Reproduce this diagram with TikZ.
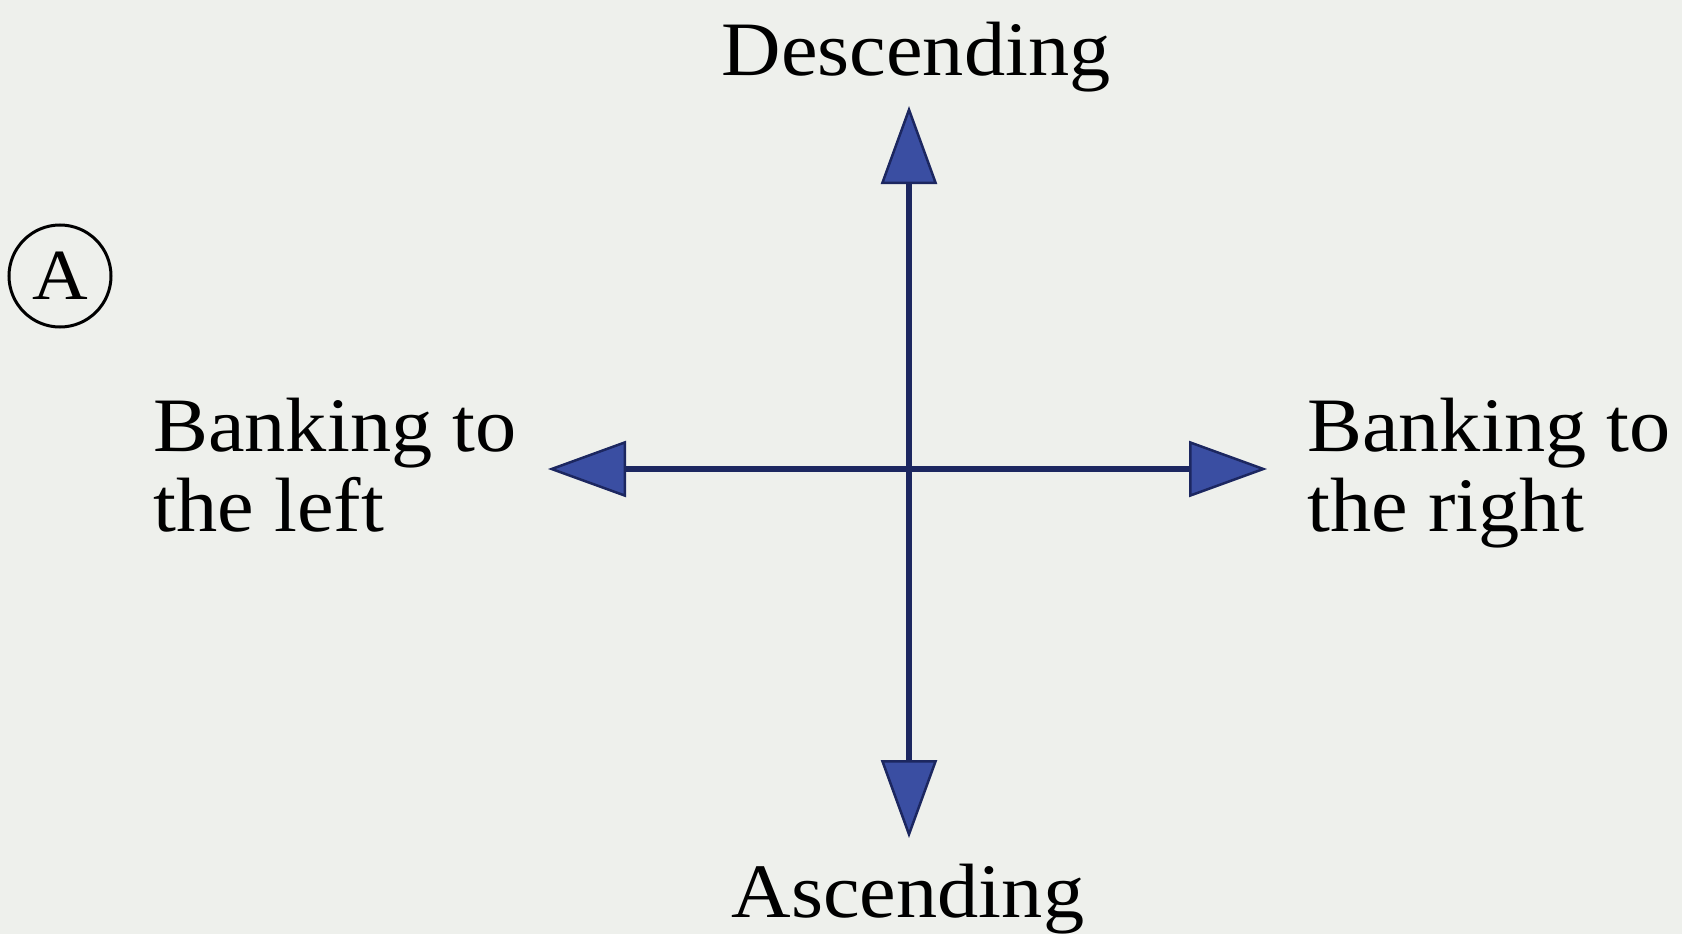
\documentclass[tikz,border=0pt]{standalone}
\usepackage{fontspec}
\setmainfont{Liberation Serif}[FakeStretch=1.07]
\usetikzlibrary{arrows.meta}
\definecolor{paper}{HTML}{EEF0EC}
\definecolor{navy}{HTML}{1C2760}
\definecolor{arrowblue}{HTML}{3A4EA2}
\begin{document}
\begin{tikzpicture}[x=1pt,y=-1pt,
  axis/.style={draw=navy, line width=5.5pt,
    -{Triangle[length=78pt 0 0, width=56pt 0 0, fill=arrowblue, line width=2.5pt]}},
  lbl/.style={inner sep=0pt, font=\fontsize{77}{80}\selectfont, text=black},
  twolbl/.style={lbl, align=left, anchor=base west}]
\fill[paper] (0,0) rectangle (1682,934);
\useasboundingbox (0,0) rectangle (1682,934);
% coordinates of the cross
\coordinate (c) at (909,469);
\coordinate (up) at (909,106);
\coordinate (down) at (909,838);
\coordinate (left) at (548,469);
\coordinate (right) at (1267,469);
\draw[axis] (c) -- (up);
\draw[axis] (c) -- (down);
\draw[axis] (c) -- (left);
\draw[axis] (c) -- (right);
% labels
\node[lbl, anchor=base] (desc) at (916,75) {Descending};
\node[lbl, anchor=base] (asc) at (908,917) {Ascending};
\node[twolbl] (bl) at (153,531) {Banking to\\the left};
\node[twolbl] (br) at (1307,531) {Banking to\\the right};
% circled A
\node[circle, draw=black, line width=3pt, minimum size=102pt, inner sep=0pt,
  font=\fontsize{72}{76}\selectfont] (A) at (60,276) {A};
\end{tikzpicture}
\end{document}
